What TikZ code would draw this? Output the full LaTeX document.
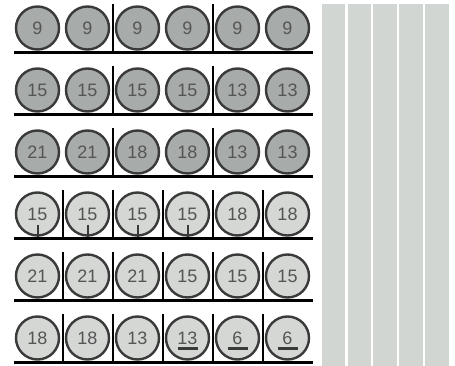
\documentclass[tikz,border=0pt]{standalone}
\usepackage{fontspec}
\setmainfont{Liberation Sans}
\definecolor{darkfill}{HTML}{A7ABA9}
\definecolor{lightfill}{HTML}{D4D7D4}
\definecolor{barfill}{HTML}{D2D6D3}
\definecolor{ringcol}{HTML}{3A3A3A}
\definecolor{numcol}{HTML}{555555}
\tikzset{
  ball/.style={circle, draw=ringcol, line width=2.4pt, minimum size=43pt, inner sep=0pt,
    text=numcol, font=\fontsize{18}{18}\selectfont},
  darkball/.style={ball, fill=darkfill},
  lightball/.style={ball, fill=lightfill},
  shelf/.style={line width=2.5pt, black},
  divider/.style={line width=2pt, black},
  tickmark/.style={line width=2pt, ringcol},
  bar/.style={fill=barfill, draw=none}
}
\begin{document}
\begin{tikzpicture}[x=1pt,y=-1pt]
\useasboundingbox (0,0) rectangle (455,366);
% bars
\foreach \i in {0,...,4}{
  \fill[bar] ({321.8+25.8*\i},4.5) rectangle ({345.3+25.8*\i},366);
}
% rows
\foreach \r/\y/\sty/\labs/\divs in {
  1/28/darkball/{9,9,9,9,9,9}/{2,4},
  2/90/darkball/{15,15,15,15,13,13}/{2,4},
  3/152/darkball/{21,21,18,18,13,13}/{2,4},
  4/214/lightball/{15,15,15,15,18,18}/{1,2,3,4,5},
  5/276/lightball/{21,21,21,15,15,15}/{1,2,3,4,5},
  6/338/lightball/{18,18,13,13,6,6}/{1,2,3,4,5}}{
  \foreach \lab [count=\c] in \labs {
    \node[\sty] (b\r-\c) at ({37.5+50*(\c-1)},\y) {\lab};
  }
  \coordinate (sl\r) at (14,\y+24.5);
  \coordinate (sr\r) at (312.5,\y+24.5);
  \draw[shelf] (sl\r) -- (sr\r);
  \foreach \d in \divs {
    \draw[divider] ({62.5+50*(\d-1)},\y-24) -- ({62.5+50*(\d-1)},\y+24);
  }
}
% ticks in row 4
\foreach \c in {1,2,3,4}{
  \draw[tickmark] ([yshift=-11pt]b4-\c.center) -- (b4-\c.south);
}
% underlines in row 6
\foreach \c in {4,5,6}{
  \draw[tickmark, line width=2.2pt] ([xshift=-10pt,yshift=-10.5pt]b6-\c.center) -- ([xshift=10pt,yshift=-10.5pt]b6-\c.center);
}
\end{tikzpicture}
\end{document}
